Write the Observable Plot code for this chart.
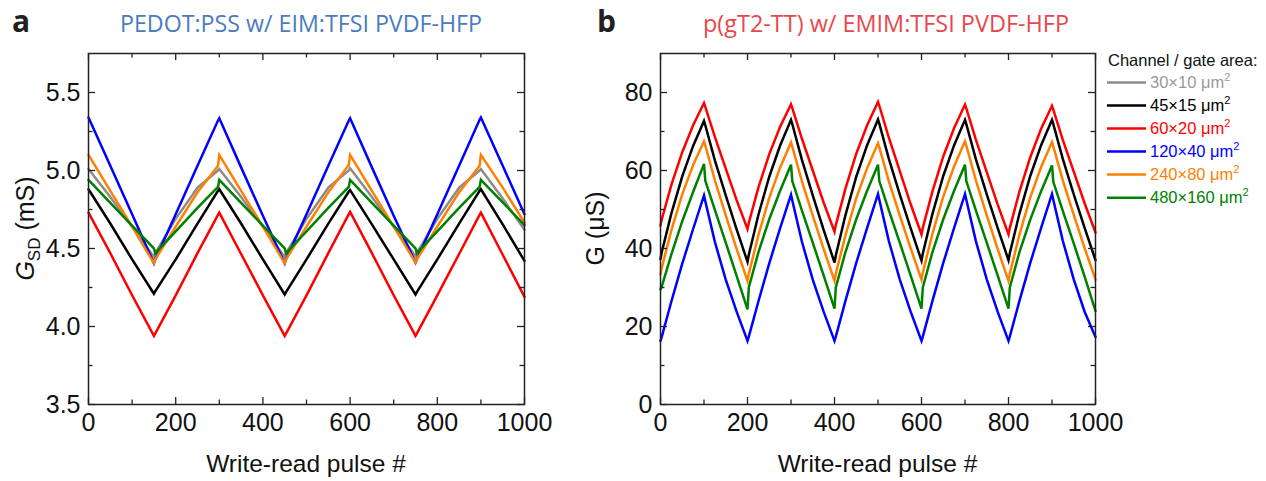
<!DOCTYPE html>
<html><head><meta charset="utf-8">
<script src="https://cdn.jsdelivr.net/npm/d3@7"></script>
<script src="https://cdn.jsdelivr.net/npm/@observablehq/plot@0.6"></script>
<style>
body{margin:0;background:#fff;}
#wrap{position:relative;width:1266px;height:481px;overflow:hidden;background:#fff;}
#wrap > svg{position:absolute;top:0;}
</style></head><body><div id="wrap"></div>
<script>
// ---------- series / legend ----------
const seriesNames = ["30×10", "45×15", "60×20", "120×40", "240×80", "480×160"];
const seriesColors = ["#8c8c8c", "#000000", "#ff0000", "#0000ff", "#ff8000", "#008000"];
const legendTextColors = ["#9a9a9a", "#000000", "#ff0000", "#0000ff", "#ff8000", "#008000"];
const legendTitle = "Channel / gate area:";

// ---------- panel a : PEDOT:PSS ----------
const titleA = "PEDOT:PSS w/ EIM:TFSI PVDF-HFP";
const pulseA = [0,50,100,150,153,200,250,297,300,350,400,450,453,500,550,597,600,650,700,750,753,800,850,897,900,950,1000];
const gA_30x10  = [5.01,4.83,4.64,4.445,4.47,4.69,4.89,5.00,5.01,4.83,4.64,4.445,4.47,4.69,4.89,5.00,5.015,4.83,4.64,4.45,4.47,4.69,4.89,5.00,5.01,4.82,4.62];
const gA_45x15  = [4.88,4.66,4.43,4.21,4.225,4.43,4.66,4.87,4.88,4.66,4.43,4.205,4.22,4.43,4.66,4.865,4.875,4.655,4.43,4.205,4.22,4.43,4.66,4.87,4.88,4.655,4.42];
const gA_60x20  = [4.73,4.47,4.20,3.94,3.955,4.20,4.47,4.715,4.73,4.465,4.20,3.94,3.955,4.20,4.47,4.72,4.735,4.47,4.20,3.94,3.955,4.20,4.465,4.715,4.73,4.46,4.19];
const gA_120x40 = [5.34,5.03,4.72,4.405,4.43,4.72,5.03,5.32,5.335,5.02,4.71,4.405,4.43,4.72,5.03,5.32,5.335,5.02,4.71,4.41,4.43,4.72,5.03,5.325,5.34,5.03,4.72];
const gA_240x80 = [5.10,4.87,4.64,4.405,4.43,4.64,4.86,5.03,5.10,4.87,4.64,4.405,4.43,4.64,4.86,5.035,5.10,4.87,4.64,4.41,4.43,4.64,4.86,5.03,5.10,4.89,4.665];
const gA_480x160= [4.94,4.793,4.647,4.50,4.47,4.61,4.76,4.895,4.94,4.793,4.647,4.50,4.47,4.61,4.76,4.895,4.94,4.793,4.647,4.50,4.47,4.61,4.76,4.895,4.94,4.795,4.65];
const yTicksA = [3.5, 4.0, 4.5, 5.0, 5.5];
const yMinorA = [3.75, 4.25, 4.75, 5.25];
const yDomainA = [3.5, 5.75];

// ---------- panel b : p(gT2-TT) ----------
const titleB = "p(gT2-TT) w/ EMIM:TFSI PVDF-HFP";
const pulseB = [0,3,25,50,75,100,103,125,150,175,200,203,225,250,275,300,303,325,350,375,400,403,425,450,475,500,503,525,550,575,600,603,625,650,675,700,703,725,750,775,800,803,825,850,875,900,903,925,950,975,1000];
const gB_45x15  = [37.3,39.1,49.0,58.5,66.3,72.7,71.6,62.6,53.6,44.9, 36.6,38.4,48.6,58.4,66.4,73.0,71.9,62.8,53.6,44.8, 36.4,38.2,48.5,58.4,66.5,73.1,72.0,63.0,53.9,45.2, 36.9,38.7,48.8,58.6,66.5,73.0,71.9,62.9,53.9,45.3, 37.0,38.8,48.9,58.6,66.5,73.0,71.9,62.9,53.9,45.3, 37.0];
const gB_60x20  = [45.9,47.5,56.3,64.7,71.6,77.3,76.3,68.6,60.5,52.4, 45.0,46.6,55.6,64.2,71.2,77.0,76.0,68.2,60.0,51.8, 44.3,46.0,55.3,64.3,71.6,77.6,76.6,68.4,59.9,51.4, 43.6,45.3,54.6,63.6,70.9,76.9,75.9,67.9,59.6,51.3, 43.6,45.3,54.5,63.4,70.7,76.6,75.6,67.8,59.7,51.6, 44.1];
const gB_120x40 = [16.3,17.4,26.4,36.1,45.0,53.6,52.1,41.7,32.0,23.8, 16.3,17.4,26.4,36.2,45.2,53.8,52.3,41.8,32.0,23.8, 16.3,17.4,26.5,36.3,45.3,54.0,52.5,41.9,32.1,23.8, 16.3,17.4,26.5,36.3,45.3,54.0,52.5,41.9,32.1,23.8, 16.3,17.4,26.5,36.3,45.3,54.0,52.5,41.9,32.1,23.8, 17.3];
const gB_240x80 = [33.4,35.1,44.7,53.9,61.4,67.5,66.4,57.5,48.5,39.9, 31.7,33.5,43.4,53.0,60.8,67.2,66.1,57.3,48.4,39.9, 31.7,33.5,43.3,52.9,60.6,67.0,66.0,57.2,48.5,40.1, 32.0,33.8,43.7,53.3,61.1,67.5,66.4,57.5,48.5,39.9, 31.7,33.5,43.5,53.1,60.9,67.3,66.2,57.4,48.6,40.1, 32.0];
const gB_480x160= [29.5,30.3,38.5,47.0,54.5,61.7,57.4,49.9,41.5,33.0, 24.4,30.0,39.0,47.5,54.8,61.5,57.3,49.8,41.5,33.1, 24.6,30.0,39.0,47.5,54.8,61.5,57.3,49.8,41.5,33.1, 24.6,30.0,39.0,47.5,54.8,61.5,57.3,49.8,41.5,33.1, 24.6,30.0,39.0,47.4,54.7,61.3,57.1,49.6,41.3,32.8, 24.0];
const yTicksB = [0, 20, 40, 60, 80];
const yMinorB = [10, 30, 50, 70];
const yDomainB = [0, 90];

// ---------- shared x ----------
const xTicks = [0, 200, 400, 600, 800, 1000];
const xMinor = [100, 300, 500, 700, 900];
const xLabel = "Write-read pulse #";

function tidy(xs, list) {
  const rows = [];
  list.forEach(([name, vals]) => vals.forEach((v, i) => rows.push({pulse: xs[i], g: v, series: name})));
  return rows;
}
const rowsA = tidy(pulseA, [["30×10", gA_30x10], ["45×15", gA_45x15], ["60×20", gA_60x20], ["120×40", gA_120x40], ["240×80", gA_240x80], ["480×160", gA_480x160]]);
const rowsB = tidy(pulseB, [["45×15", gB_45x15], ["60×20", gB_60x20], ["120×40", gB_120x40], ["240×80", gB_240x80], ["480×160", gB_480x160]]);

const W = 560, H = 481, MT = 53, MB = 77;
function frameTicks(yMajor, yMinor, fw, fh) {
  const c = {stroke: "#222", strokeWidth: 1.3};
  const M = 7, m = 4.5;
  return [
    Plot.ruleX(xTicks, {x: d => d, insetTop: fh - M, ...c}),
    Plot.ruleX(xMinor, {x: d => d, insetTop: fh - m, ...c}),
    Plot.ruleX(xTicks, {x: d => d, insetBottom: fh - M, ...c}),
    Plot.ruleX(xMinor, {x: d => d, insetBottom: fh - m, ...c}),
    Plot.ruleY(yMajor, {y: d => d, insetRight: fw - M, ...c}),
    Plot.ruleY(yMinor, {y: d => d, insetRight: fw - m, ...c}),
    Plot.ruleY(yMajor, {y: d => d, insetLeft: fw - M, ...c}),
    Plot.ruleY(yMinor, {y: d => d, insetLeft: fw - m, ...c})
  ];
}

function panel(rows, yDomain, yMajor, yMinor, fmt, mL, mR) {
  const fw = W - mL - mR, fh = H - MT - MB;
  return Plot.plot({
    width: W, height: H,
    marginLeft: mL, marginRight: mR, marginTop: MT, marginBottom: MB,
    style: {fontFamily: "'Liberation Sans', Arial, sans-serif", fontSize: "25px", overflow: "visible", background: "transparent", color: "#111"},
    x: {domain: [0, 1000]},
    y: {domain: yDomain},
    color: {domain: seriesNames, range: seriesColors},
    marks: [
      Plot.line(rows, {x: "pulse", y: "g", z: "series", stroke: "series", strokeWidth: 2.5, strokeLinejoin: "miter", strokeMiterlimit: 4}),
      Plot.frame({stroke: "#222", strokeWidth: 1.5}),
      ...frameTicks(yMajor, yMinor, fw, fh),
      Plot.axisX(xTicks, {anchor: "bottom", tickSize: 0, tickPadding: 9, fontSize: 25, label: null, tickFormat: d => String(d)}),
      Plot.axisY(yMajor, {anchor: "left", tickSize: 0, tickPadding: 8, fontSize: 25, label: null, tickFormat: fmt})
    ]
  });
}

const wrap = document.getElementById("wrap");
const pA = panel(rowsA, yDomainA, yTicksA, yMinorA, d => d.toFixed(1), 88, 36);
pA.style.left = "0px";
wrap.appendChild(pA);
const pB = panel(rowsB, yDomainB, yTicksB, yMinorB, d => String(d), 90, 35);
pB.style.left = "570px";
wrap.appendChild(pB);

// ---------- overlay: titles, axis titles, legend ----------
const ov = d3.select(wrap).append("svg")
  .attr("width", 1266).attr("height", 481).style("left", "0px")
  .style("font-family", "'Liberation Sans', Arial, sans-serif");

ov.append("text").attr("x", 12).attr("y", 31.5).attr("font-family", "'Open Sans', sans-serif").attr("font-weight", 700).attr("font-size", 30).attr("fill", "#231f20").text("a");
ov.append("text").attr("x", 597).attr("y", 31.5).attr("font-family", "'Open Sans', sans-serif").attr("font-weight", 700).attr("font-size", 30).attr("fill", "#231f20").text("b");
ov.append("text").attr("x", 120).attr("y", 31.5).attr("font-family", "'Open Sans', sans-serif").attr("font-size", 23).attr("fill", "#4a7cc0")
  .attr("textLength", 362).attr("lengthAdjust", "spacingAndGlyphs").text(titleA);
ov.append("text").attr("x", 703).attr("y", 31.5).attr("font-family", "'Open Sans', sans-serif").attr("font-size", 23).attr("fill", "#e8484d")
  .attr("textLength", 366).attr("lengthAdjust", "spacingAndGlyphs").text(titleB);

ov.append("text").attr("x", 306).attr("y", 472).attr("text-anchor", "middle").attr("font-size", 24.5).attr("fill", "#111").text(xLabel);
ov.append("text").attr("x", 877.5).attr("y", 472).attr("text-anchor", "middle").attr("font-size", 24.5).attr("fill", "#111").text(xLabel);

const yl = ov.append("text").attr("transform", "translate(34,228.5) rotate(-90)").attr("text-anchor", "middle").attr("font-size", 25).attr("fill", "#111");
yl.append("tspan").attr("font-style", "italic").text("G");
yl.append("tspan").attr("font-size", 17).attr("dy", 6).text("SD");
yl.append("tspan").attr("dy", -6).text(" (mS)");
ov.append("text").attr("transform", "translate(604,228.5) rotate(-90)").attr("text-anchor", "middle").attr("font-size", 25).attr("fill", "#111").text("G (μS)");

ov.append("text").attr("x", 1108).attr("y", 65.7).attr("font-size", 16.5).attr("fill", "#111").text(legendTitle);
seriesNames.forEach((name, i) => {
  const yy = 82.4 + i * 23.05;
  ov.append("line").attr("x1", 1107).attr("x2", 1146).attr("y1", yy).attr("y2", yy)
    .attr("stroke", seriesColors[i]).attr("stroke-width", 2.5);
  const t = ov.append("text").attr("x", 1150).attr("y", yy + 5.8).attr("font-size", 16.5).attr("fill", legendTextColors[i]);
  t.append("tspan").text(name + " μm");
  t.append("tspan").attr("font-size", 11).attr("dy", -7).text("2");
});
</script></body></html>
